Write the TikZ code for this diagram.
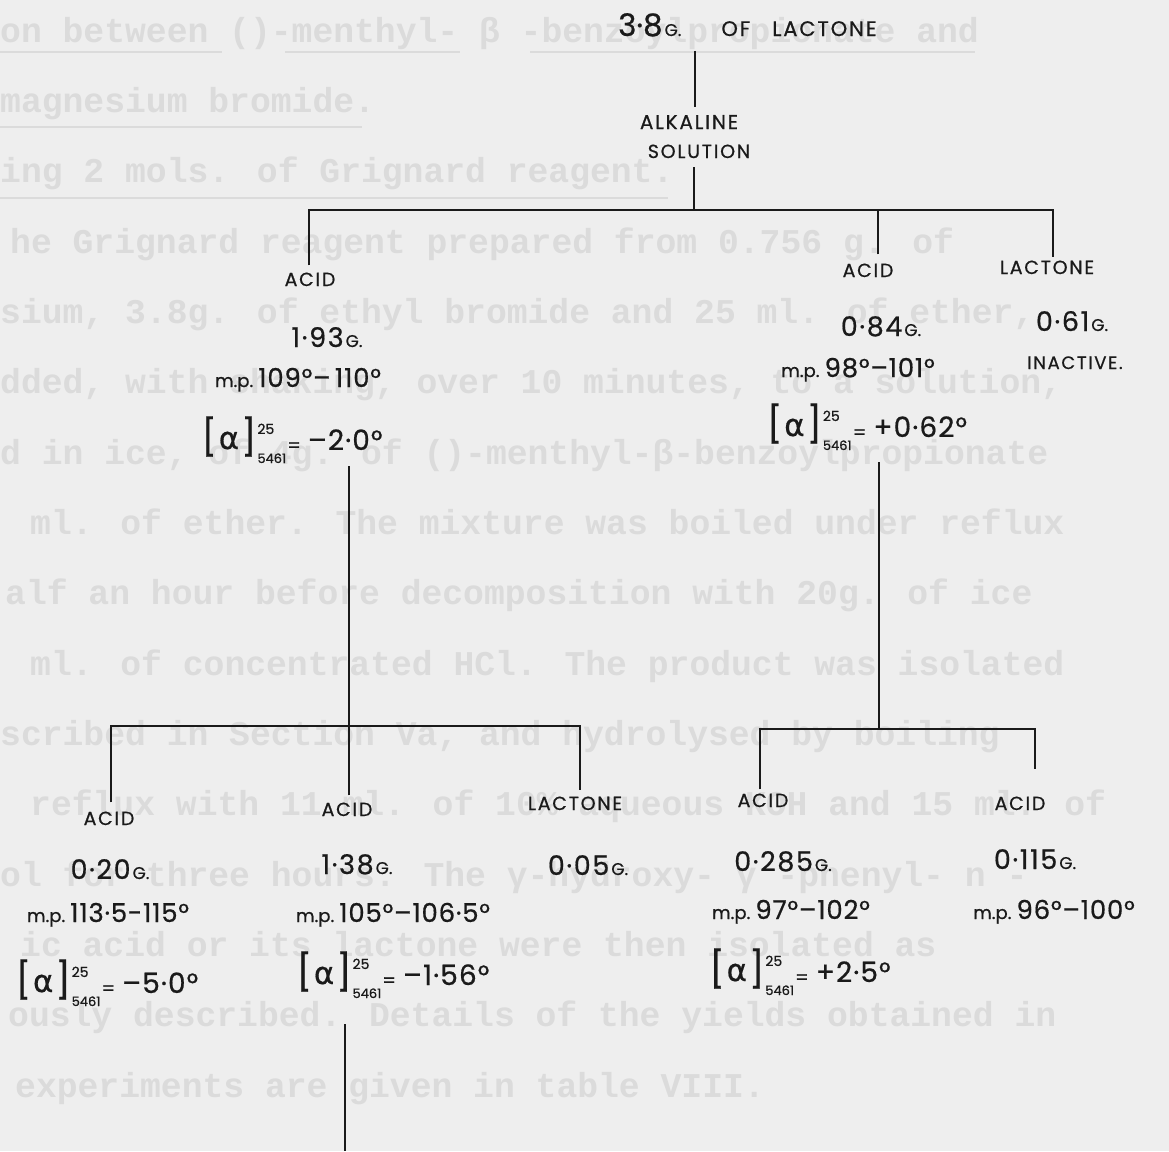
\documentclass[tikz,border=0pt]{standalone}
\usepackage{fontspec}
\usetikzlibrary{calc}
\newfontfamily\handf[FakeBold=0.6]{Poppins}
\newfontfamily\capsf[FakeBold=0.6,LetterSpace=9]{Poppins}
\newfontfamily\typef{Liberation Mono}
\newfontfamily\greekf[FakeBold=0.6]{DejaVu Sans}
\definecolor{paper}{HTML}{EEEEEE}
\definecolor{ghost}{HTML}{DBDBDB}
\definecolor{ink}{HTML}{1A1A1A}
\newcommand{\sz}[2]{{\fontsize{#1}{#1}\selectfont #2}}
\newcommand{\cz}[2]{{\capsf\fontsize{#1}{#1}\selectfont #2}}
\newcommand{\gu}{\kern2pt\sz{17}{G.}}
\newcommand{\wtx}[1]{{\addfontfeature{LetterSpace=6}\sz{27}{#1}}\gu}
\newcommand{\mpx}[1]{\sz{18}{m.p.}\hspace{5pt}{\addfontfeature{LetterSpace=3}\sz{26}{#1}}}
\newcommand{\rotx}[1]{\sz{36}{[}\kern2pt\raisebox{1pt}{\greekf\fontsize{31}{31}\selectfont α}\kern2pt\sz{36}{]}\kern1pt\rlap{\raisebox{16pt}{\sz{14}{25}}}\raisebox{-13pt}{\sz{13}{5461}}\kern1pt\raisebox{-2pt}{\sz{19}{=}}\hspace{7pt}{\addfontfeature{LetterSpace=4}\sz{28}{#1}}}
\begin{document}
\begin{tikzpicture}[x=1pt,y=-1pt,
  lbl/.style={font=\handf, text=ink, inner sep=0pt, anchor=base},
  tree/.style={draw=ink, line width=1.8pt},
  gh/.style={font=\typef\bfseries\fontsize{34.7}{34.7}\selectfont, text=ghost, inner sep=0pt, anchor=base west},
  ghl/.style={draw=ghost, line width=2pt}]
\fill[paper] (0,0) rectangle (1169,1151);
\useasboundingbox (0,0) rectangle (1169,1151);
% faint show-through of typed text
\begin{scope}
\clip (0,0) rectangle (1169,1151);
\node[gh] (g1) at (0,42) {on between ()-menthyl- β -benzoylpropionate and};
\node[gh] (g2) at (0,112) {magnesium bromide.};
\node[gh] (g3) at (0,182) {ing 2 mols. of Grignard reagent.};
\node[gh] (g4) at (10,253) {he Grignard reagent prepared from 0.756 g. of};
\node[gh] (g5) at (0,323) {sium, 3.8g. of ethyl bromide and 25 ml. of ether,};
\node[gh] (g6) at (0,393) {dded, with shaking, over 10 minutes, to a solution,};
\node[gh] (g7) at (0,464) {d in ice, of 4g. of ()-menthyl-β-benzoylpropionate};
\node[gh] (g8) at (30,534) {ml. of ether.  The mixture was boiled under reflux};
\node[gh] (g9) at (5,604) {alf an hour before decomposition with 20g. of ice};
\node[gh] (g10) at (30,675) {ml. of concentrated HCl.  The product was isolated};
\node[gh] (g11) at (0,745) {scribed in Section Va, and hydrolysed by boiling};
\node[gh] (g12) at (30,815) {reflux with 11 ml. of 10\% aqueous KOH and 15 ml. of};
\node[gh] (g13) at (0,886) {ol for three hours.  The  γ-hydroxy- γ -phenyl- n -};
\node[gh] (g14) at (20,956) {ic acid or its lactone were then isolated as};
\node[gh] (g15) at (8,1026) {ously described.  Details of the yields obtained in};
\node[gh] (g16) at (15,1097) {experiments are given in table VIII.};
\draw[ghl] (0,52) -- (222,52) (285,52) -- (460,52) (530,52) -- (975,52);
\draw[ghl] (0,127) -- (362,127);
\draw[ghl] (0,198) -- (668,198);
\end{scope}
% handwritten tree
\node[lbl, anchor=base west] (root) at (618,36) {\sz{31}{3·8}\gu\hspace{40pt}\cz{21}{OF}\hspace{22pt}\cz{21}{LACTONE}};
\node[lbl] (alk) at (689,129) {\cz{20}{ALKALINE}};
\node[lbl] (sol) at (699,158) {\cz{19}{SOLUTION}};
\node[lbl] (acid1) at (310,286) {\cz{19}{ACID}};
\node[lbl] (acid2) at (868,277) {\cz{19}{ACID}};
\node[lbl] (lac1) at (1047,274) {\cz{19}{LACTONE}};
\node[lbl] (w1) at (327,347) {\wtx{1·93}};
\node[lbl] (mp1) at (298,387) {\mpx{109°–\,110°}};
\node[lbl] (rot1) at (292,450) {\rotx{–2·0°}};
\node[lbl] (w2) at (881,336) {\wtx{0·84}};
\node[lbl] (mp2) at (858,377) {\mpx{98°–101°}};
\node[lbl] (rot2) at (867,437) {\rotx{+0·62°}};
\node[lbl] (w3) at (1072,331) {\wtx{0·61}};
\node[lbl] (inact) at (1075,369) {\cz{18}{INACTIVE.}};
\node[lbl] (a3) at (109,825) {\cz{19}{ACID}};
\node[lbl] (a4) at (347,816) {\cz{19}{ACID}};
\node[lbl] (l2) at (575,810) {\cz{19}{LACTONE}};
\node[lbl] (a5) at (763,807) {\cz{19}{ACID}};
\node[lbl] (a6) at (1020,810) {\cz{19}{ACID}};
\node[lbl] (w4) at (110,879) {\wtx{0·20}};
\node[lbl] (w5) at (357,874) {\wtx{1·38}};
\node[lbl] (w6) at (588,875) {\wtx{0·05}};
\node[lbl] (w7) at (783,871) {\wtx{0·285}};
\node[lbl] (w8) at (1035,869) {\wtx{0·115}};
\node[lbl] (mp4) at (108,922) {\mpx{113·5-115°}};
\node[lbl] (mp5) at (393,922) {\mpx{105°–106·5°}};
\node[lbl] (mp7) at (791,919) {\mpx{97°–102°}};
\node[lbl] (mp8) at (1054,919) {\mpx{96°–100°}};
\node[lbl] (rot4) at (107,993) {\rotx{–5·0°}};
\node[lbl] (rot5) at (393,985) {\rotx{–1·56°}};
\node[lbl] (rot7) at (800,982) {\rotx{+2·5°}};
% junctions
\coordinate (ja) at (694,210);
\coordinate (jb) at (349,726);
\coordinate (jc) at (879,729);
\coordinate (jd) at (345,1151);
% connectors
\draw[tree] ($(root.south west)+(77,14)$) -- ($(alk.north)+(6,-8)$);
\draw[tree] ($(sol.south)+(-5,9)$) -- (ja);
\draw[tree] ($(acid1.north)+(-1,-7)$) |- (ja) -| ($(lac1.north)+(6,-3)$);
\draw[tree] ($(acid2.north)+(10,-9)$) |- (ja);
\draw[tree] ($(rot1.south -| jb)+(0,3)$) -- (jb);
\draw[tree] ($(a3.north)+(2,-9)$) |- (jb) -| ($(l2.north)+(5,-6)$);
\draw[tree] ($(a4.north)+(2,-7)$) -- (jb);
\draw[tree] ($(rot2.south -| jc)+(0,12)$) -- (jc);
\draw[tree] ($(a5.north)+(-3,-4)$) |- (jc) -| ($(a6.north)+(15,-27)$);
\draw[tree] ($(rot5.south -| jd)+(0,26)$) -- (jd);
\end{tikzpicture}
\end{document}
